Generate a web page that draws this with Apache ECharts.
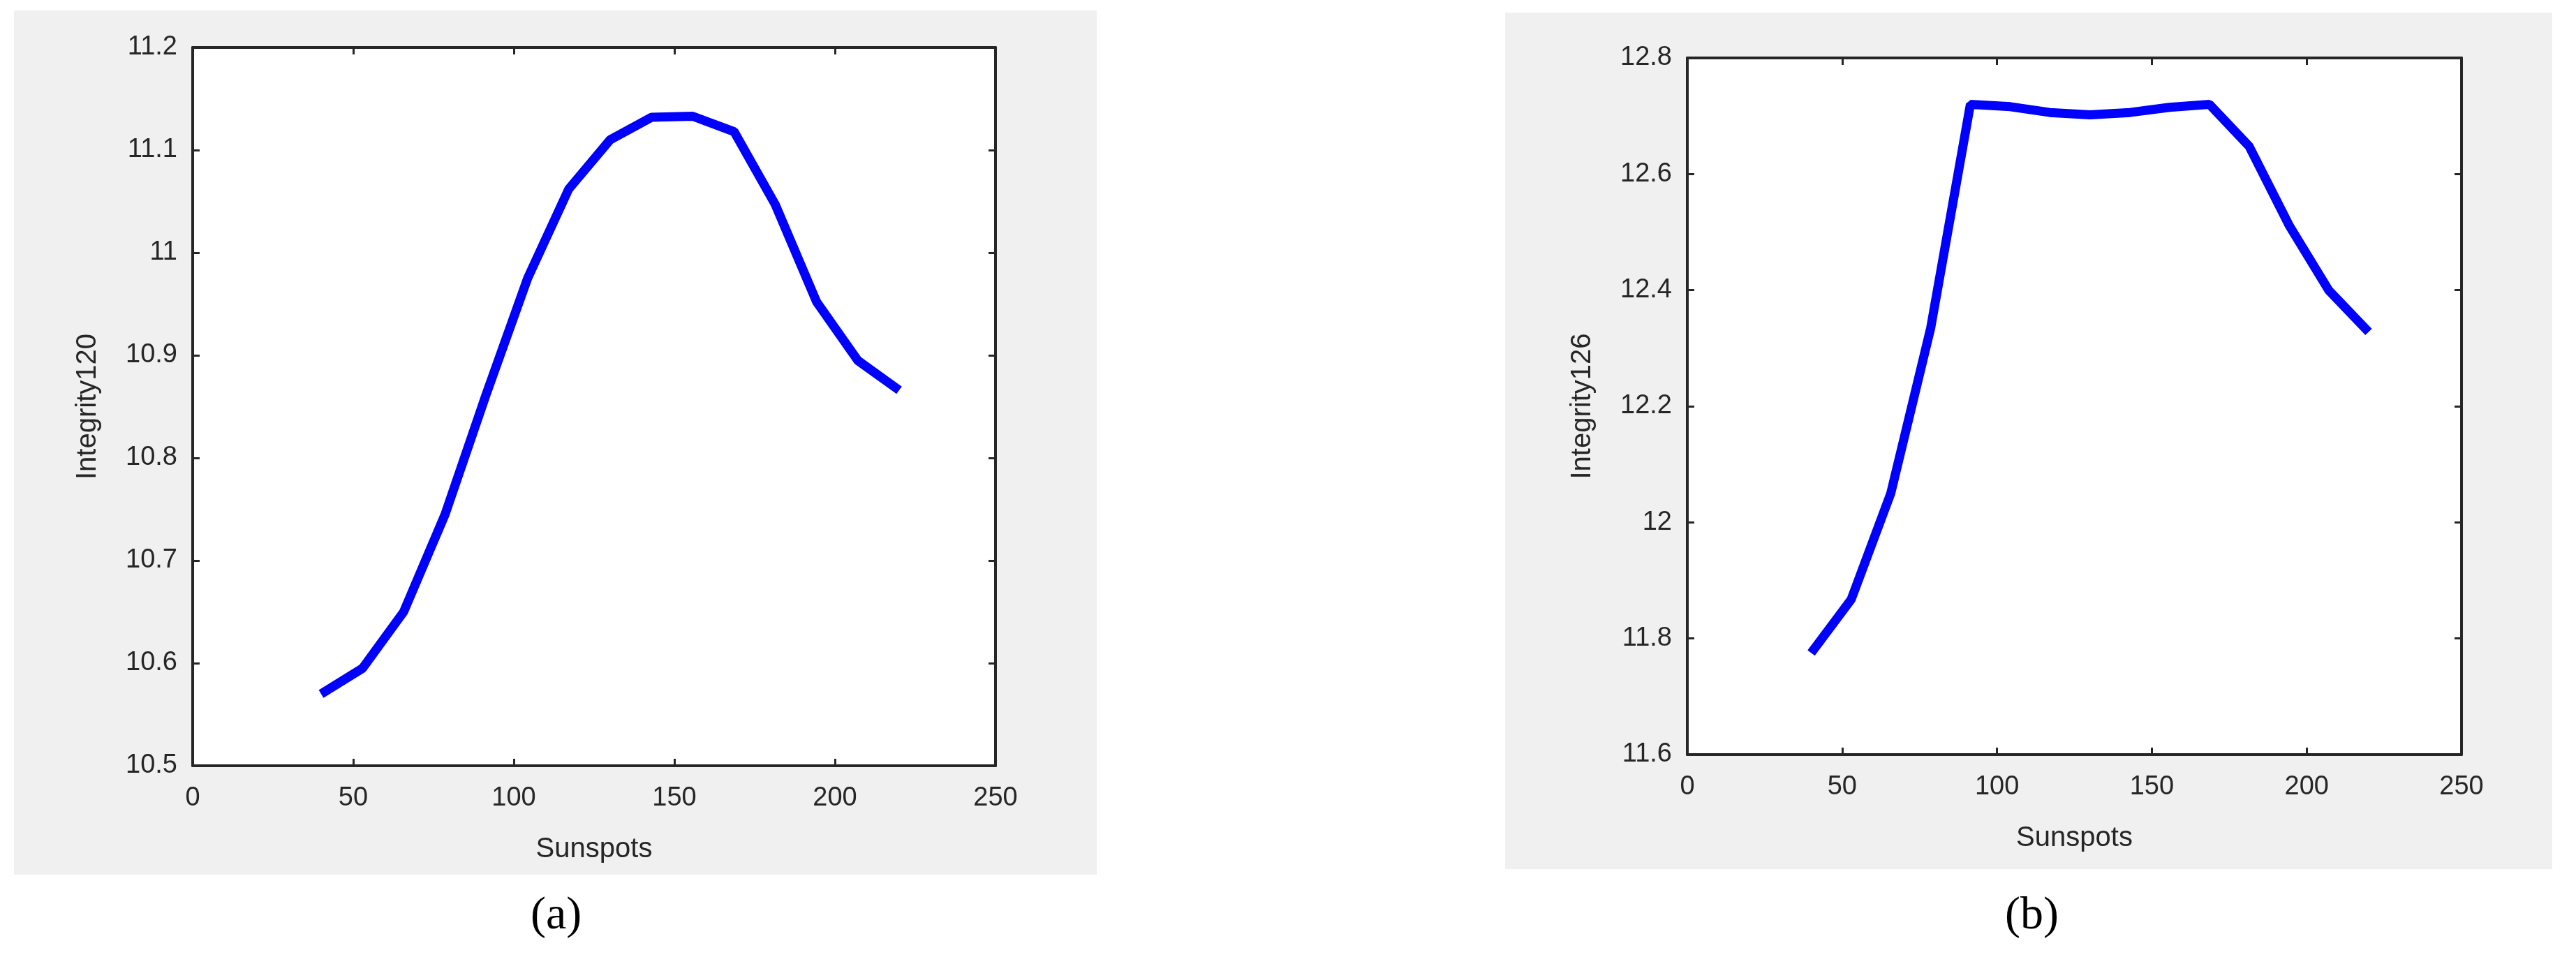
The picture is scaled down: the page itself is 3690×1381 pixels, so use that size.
<!DOCTYPE html>
<html lang="en">
<head>
<meta charset="UTF-8">
<title>Integrity vs Sunspots</title>
<script src="https://cdn.jsdelivr.net/npm/echarts@6/dist/echarts.min.js"></script>
<style>
  html, body { margin: 0; padding: 0; background: #fff; }
  #main { width: 3690px; height: 1381px; }
</style>
</head>
<body>
<div id="main"></div>
<script>
  // sunspot counts (shared x)
  var sunspots = [40, 52.9, 65.7, 78.6, 91.4, 104.3, 117.1, 130, 142.9, 155.7, 168.6, 181.4, 194.3, 207.1, 220];
  var integrity120 = [10.57, 10.595, 10.65, 10.745, 10.862, 10.975, 11.062, 11.11, 11.132, 11.133, 11.118, 11.047, 10.952, 10.895, 10.866];
  var integrity126 = [11.775, 11.867, 12.05, 12.335, 12.72, 12.716, 12.706, 12.702, 12.706, 12.715, 12.72, 12.648, 12.512, 12.4, 12.328];
  var xTicks = [0, 250, 50];
  var yTicksA = [10.5, 11.2, 0.1];
  var yTicksB = [11.6, 12.8, 0.2];

  var chart = echarts.init(document.getElementById('main'));
  var font = 'Liberation Sans';
  var axisCol = '#262626';

  function pairs(ys) {
    return sunspots.map(function (x, i) { return [x, ys[i]]; });
  }

  function xAxes(gi) {
    var base = {
      type: 'value', gridIndex: gi, min: xTicks[0], max: xTicks[1], interval: xTicks[2],
      splitLine: { show: false },
      axisLine: { show: true, onZero: false, lineStyle: { color: axisCol, width: 4 } },
      axisTick: { show: true, inside: true, length: 10, lineStyle: { color: axisCol, width: 3 } }
    };
    return [
      Object.assign({}, base, {
        position: 'bottom', name: 'Sunspots', nameLocation: 'middle', nameGap: 100,
        nameTextStyle: { fontFamily: font, fontSize: 40, color: '#262626' },
        axisLabel: { fontFamily: font, fontSize: 38, color: '#262626', margin: 28 }
      }),
      Object.assign({}, base, { position: 'top', axisLabel: { show: false } })
    ];
  }

  function yAxes(gi, t, name) {
    var base = {
      type: 'value', gridIndex: gi, min: t[0], max: t[1], interval: t[2],
      splitLine: { show: false },
      axisLine: { show: true, onZero: false, lineStyle: { color: axisCol, width: 4 } },
      axisTick: { show: true, inside: true, length: 10, lineStyle: { color: axisCol, width: 3 } }
    };
    return [
      Object.assign({}, base, {
        position: 'left', name: name, nameLocation: 'middle', nameGap: 130,
        nameTextStyle: { fontFamily: font, fontSize: 40, color: '#262626' },
        axisLabel: { fontFamily: font, fontSize: 38, color: '#262626', margin: 22,
          formatter: function (v) { return String(+v.toFixed(2)); } }
      }),
      Object.assign({}, base, { position: 'right', axisLabel: { show: false } })
    ];
  }

  var xa = xAxes(0).concat(xAxes(1));
  var ya = yAxes(0, yTicksA, 'Integrity120').concat(yAxes(1, yTicksB, 'Integrity126'));

  chart.setOption({
    animation: false,
    backgroundColor: '#fff',
    graphic: [
      { type: 'rect', left: 20, top: 15, shape: { width: 1551, height: 1238 }, style: { fill: '#f0f0f0' }, z: -10 },
      { type: 'rect', left: 2156, top: 18, shape: { width: 1500, height: 1227 }, style: { fill: '#f0f0f0' }, z: -10 },
      { type: 'text', left: 760, top: 1280, style: { text: '(a)', font: '66px "Liberation Serif"', fill: '#000' } },
      { type: 'text', left: 2872, top: 1280, style: { text: '(b)', font: '66px "Liberation Serif"', fill: '#000' } },
      { type: 'text', left: 780, top: 1280, style: { text: 'a', font: 'bold 66px "Liberation Serif"', fill: 'rgba(0,0,0,0)' } }
    ],
    grid: [
      { left: 276, top: 68, width: 1150, height: 1029, backgroundColor: '#fff', show: true, borderWidth: 0 },
      { left: 2417, top: 83, width: 1109, height: 998, backgroundColor: '#fff', show: true, borderWidth: 0 }
    ],
    xAxis: xa,
    yAxis: ya,
    series: [
      { type: 'line', xAxisIndex: 0, yAxisIndex: 0, data: pairs(integrity120), showSymbol: false,
        lineStyle: { color: '#0000ff', width: 13 } },
      { type: 'line', xAxisIndex: 2, yAxisIndex: 2, data: pairs(integrity126), showSymbol: false,
        lineStyle: { color: '#0000ff', width: 13 } }
    ]
  });
</script>
</body>
</html>
